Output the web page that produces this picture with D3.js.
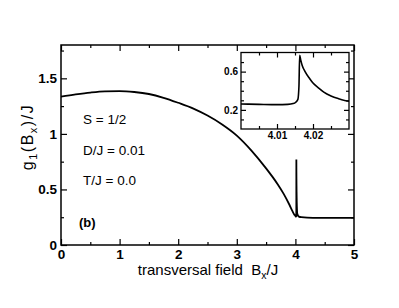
<!DOCTYPE html>
<html>
<head>
<meta charset="utf-8">
<script src="https://cdn.jsdelivr.net/npm/d3@7"></script>
<style>
  body { margin: 0; background: #fff; }
  svg { font-family: 'Liberation Sans', Arial, sans-serif; }
  .tick text { font-weight: bold; fill: #000; }
  .tick line { stroke: #000; stroke-width: 1.2; }
</style>
</head>
<body>
<svg id="chart" width="399" height="308"></svg>
<script>
'use strict';

// transversal field B_x/J and g_1(B_x)/J
const fieldB = [0, 0.25, 0.5, 0.75, 1.0, 1.25, 1.5, 1.75, 2.0, 2.25, 2.5, 2.75, 3.0, 3.25, 3.5,
    3.6, 3.7, 3.8, 3.9, 3.95, 3.98, 4.0, 4.005, 4.01, 4.013, 4.0145, 4.0152, 4.0158, 4.0161,
    4.0163, 4.0166, 4.017, 4.0178, 4.019, 4.020, 4.0215, 4.023, 4.025, 4.027, 4.03,
    4.04, 4.06, 4.1, 4.3, 4.6, 5.0];
const gap = [1.335, 1.355, 1.372, 1.383, 1.385, 1.377, 1.359, 1.325, 1.28, 1.23, 1.165, 1.085, 0.985, 0.85, 0.69,
    0.62, 0.545, 0.46, 0.36, 0.305, 0.275, 0.262, 0.258, 0.255, 0.258, 0.266, 0.28, 0.31, 0.45,
    0.77, 0.72, 0.665, 0.60, 0.53, 0.48, 0.43, 0.385, 0.345, 0.318, 0.29,
    0.27, 0.255, 0.25, 0.245, 0.245, 0.245];

const xMajor = [0, 1, 2, 3, 4, 5];
const xMinor = [0.5, 1.5, 2.5, 3.5, 4.5];
const yMajor = [0, 0.5, 1, 1.5];
const yMinor = [0.25, 0.75, 1.25, 1.75];

const insetXMajor = [4.01, 4.02];
const insetXMinor = [4.005, 4.015, 4.025];
const insetYMajor = [0.2, 0.6];
const insetYMinor = [0.1, 0.3, 0.4, 0.5, 0.7];

const labels = ['S = 1/2', 'D/J = 0.01', 'T/J = 0.0'];

const points = fieldB.map((b, i) => ({b: b, g: gap[i]}));
const svg = d3.select('#chart');

// draws a framed box with inward ticks on all four sides
const drawFrame = (opts) => {
    const {x, y, major, minor, fontSize, pad, xFmt, yFmt} = opts;
    const [x0, x1] = x.range();
    const [y0, y1] = y.range();
    const g = svg.append('g');

    const put = (axis, tx, ty, vals, len, fmt) => {
        const a = g.append('g')
            .attr('transform', `translate(${tx},${ty})`)
            .call(axis.tickValues(vals).tickSize(-len).tickPadding(pad).tickFormat(fmt || ''));
        a.select('.domain').remove();
        a.selectAll('text').style('font-size', fontSize + 'px');
        return a;
    };

    put(d3.axisBottom(x), 0, y0, opts.xMajor, major, xFmt);
    put(d3.axisBottom(x), 0, y0, opts.xMinor, minor);
    put(d3.axisTop(x), 0, y1, opts.xMajor, major);
    put(d3.axisTop(x), 0, y1, opts.xMinor, minor);
    put(d3.axisLeft(y), x0, 0, opts.yMajor, major, yFmt);
    put(d3.axisLeft(y), x0, 0, opts.yMinor, minor);
    put(d3.axisRight(y), x1, 0, opts.yMajor, major);
    put(d3.axisRight(y), x1, 0, opts.yMinor, minor);

    g.append('rect')
        .attr('x', x0).attr('y', y1)
        .attr('width', x1 - x0).attr('height', y0 - y1)
        .attr('fill', 'none').attr('stroke', '#000').attr('stroke-width', opts.frame);
    return g;
};

// main panel
const x = d3.scaleLinear().domain([0, 5]).range([61, 354]);
const y = d3.scaleLinear().domain([0, 1.8]).range([245, 45]);

const line = (xs, ys) => d3.line().curve(d3.curveMonotoneX).x(d => xs(d.b)).y(d => ys(d.g));

svg.append('path')
    .datum(points)
    .attr('d', line(x, y))
    .attr('fill', 'none')
    .attr('stroke', '#000')
    .attr('stroke-width', 1.8);

drawFrame({
    x: x, y: y, major: 6, minor: 3, fontSize: 13.5, pad: 4, frame: 1.5,
    xMajor: xMajor, xMinor: xMinor, yMajor: yMajor, yMinor: yMinor,
    xFmt: d3.format('d'), yFmt: d => String(d)
});

// inset
const ix = d3.scaleLinear().domain([4.0, 4.03]).range([241, 349]);
const iy = d3.scaleLinear().domain([0, 0.8]).range([129, 52.5]);

svg.append('rect')
    .attr('x', 241).attr('y', 52.5)
    .attr('width', 108).attr('height', 76.5)
    .attr('fill', '#fff');

svg.append('clipPath').attr('id', 'inset-clip')
    .append('rect')
    .attr('x', 241).attr('y', 52.5)
    .attr('width', 108).attr('height', 76.5);

svg.append('path')
    .datum(points)
    .attr('clip-path', 'url(#inset-clip)')
    .attr('d', line(ix, iy))
    .attr('fill', 'none')
    .attr('stroke', '#000')
    .attr('stroke-width', 1.6);

drawFrame({
    x: ix, y: iy, major: 5, minor: 3, fontSize: 10, pad: 3, frame: 1.3,
    xMajor: insetXMajor, xMinor: insetXMinor, yMajor: insetYMajor, yMinor: insetYMinor,
    xFmt: d3.format('.2f'), yFmt: d3.format('.1f')
});

// annotations
svg.selectAll('.note')
    .data(labels)
    .enter().append('text')
    .attr('class', 'note')
    .attr('x', 83)
    .attr('y', (d, i) => 124 + i * 30.5)
    .style('font-size', '13.5px')
    .text(d => d);

svg.append('text')
    .attr('x', 79).attr('y', 227)
    .style('font-size', '13px')
    .style('font-weight', 'bold')
    .text('(b)');

// axis titles
const xt = svg.append('text')
    .attr('x', 208).attr('y', 275)
    .attr('text-anchor', 'middle')
    .style('font-size', '15px');
xt.append('tspan').text('transversal field\u00a0\u00a0B');
xt.append('tspan').attr('dy', 4).style('font-size', '10.5px').text('x');
xt.append('tspan').attr('dy', -4).text('/J');

const yt = svg.append('text')
    .attr('transform', 'translate(33,137) rotate(-90)')
    .attr('text-anchor', 'middle')
    .style('font-size', '16px')
    .style('letter-spacing', '1.5px');
yt.append('tspan').text('g');
yt.append('tspan').attr('dy', 4).style('font-size', '11px').text('1');
yt.append('tspan').attr('dy', -4).text('(B');
yt.append('tspan').attr('dy', 4).style('font-size', '11px').text('x');
yt.append('tspan').attr('dy', -4).text(')/J');
</script>
</body>
</html>
